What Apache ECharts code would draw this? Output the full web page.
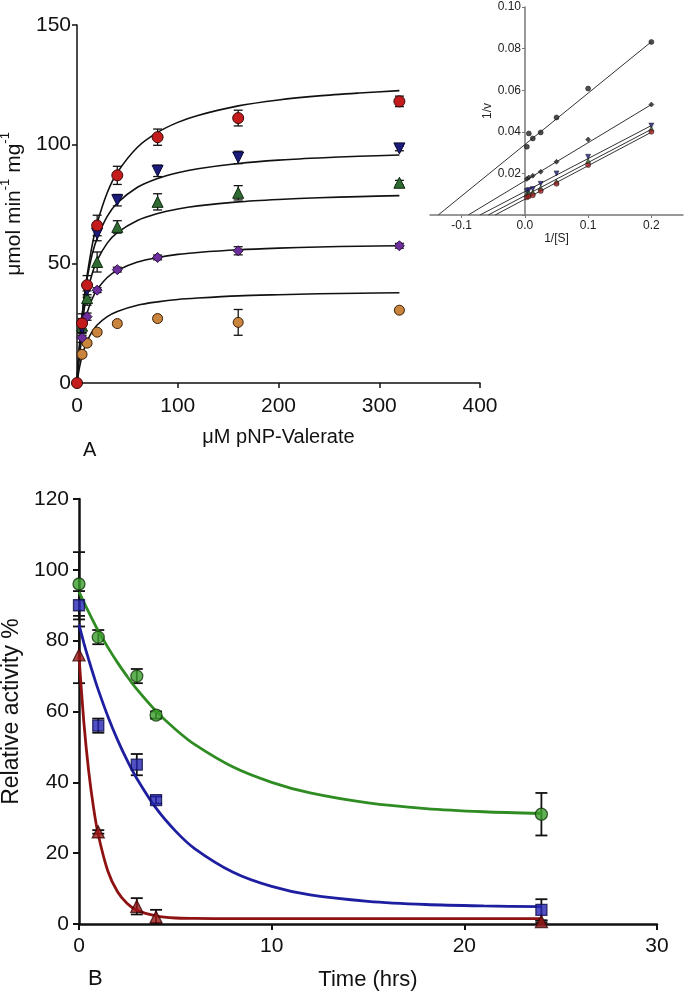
<!DOCTYPE html>
<html><head><meta charset="utf-8">
<script src="https://cdn.jsdelivr.net/npm/echarts@6/dist/echarts.min.js"></script>
<style>html,body{margin:0;padding:0;background:#fff}#c{width:685px;height:996px}</style>
</head><body><div id="c"></div>
<script>
// ---------- Panel A: Michaelis-Menten ----------
const concs = [5, 10, 20, 40, 80, 160, 320];
const redV = [25, 41, 66, 87, 103, 111, 118];
const redE = [4, 4, 4.3, 3.8, 3.4, 3.3, 2.2];
const blueV = [23, 38.9, 62.6, 76.6, 88.9, 94.5, 98.3];
const blueE = [3, 3, 3, 2.4, 2.4, 2.6, 1];
const greenV = [24, 35.6, 50.7, 65.4, 75.9, 79.7, 83.9];
const greenE = [3, 3, 4.2, 2.6, 3.4, 3, 1];
const purpleV = [19, 27.8, 38.9, 47.5, 52.6, 55.4, 57.5];
const purpleE = [2, 1.5, 1, 1, 1, 1.7, 1];
const orangeV = [12, 16.7, 21.3, 24.9, 27, 25.4, 30.5];
const orangeE = [1, 1, 1, 1, 1, 5.4, 1];

const fitS = [0, 1, 2.5, 5, 7.5, 10, 15, 20, 30, 40, 60, 80, 100, 120, 160, 200, 240, 280, 320];
const redFit = [0, 6.55, 15.2, 27.2, 37.0, 45.0, 57.6, 66.9, 79.7, 88.2, 98.8, 105.0, 109.2, 112.1, 116.1, 118.6, 120.3, 121.5, 122.5];
const blueFit = [0, 7.25, 16.3, 28.1, 36.9, 43.7, 53.8, 60.7, 69.8, 75.4, 82.0, 85.7, 88.1, 89.8, 92.0, 93.4, 94.3, 95.0, 95.5];
const greenFit = [0, 6.41, 14.3, 24.4, 31.8, 37.5, 45.7, 51.4, 58.6, 63.0, 68.1, 71.0, 72.9, 74.2, 75.9, 76.9, 77.6, 78.1, 78.5];
const purpleFit = [0, 5.26, 11.6, 19.4, 25.0, 29.3, 35.2, 39.2, 44.2, 47.2, 50.7, 52.6, 53.9, 54.7, 55.8, 56.5, 57.0, 57.3, 57.5];
const orangeFit = [0, 2.93, 6.6, 11.3, 14.8, 17.5, 21.5, 24.3, 27.8, 30.0, 32.6, 34.0, 35.0, 35.6, 36.5, 37.0, 37.4, 37.6, 37.8];

// ---------- Inset: Lineweaver-Burk ----------
const invS = [0.003125, 0.00625, 0.0125, 0.025, 0.05, 0.1, 0.2];
const lbOrange = [0.0328, 0.0392, 0.0368, 0.0397, 0.0469, 0.0608, 0.0832];
const lbPurple = [0.0173, 0.0180, 0.0189, 0.0208, 0.0256, 0.0363, 0.0531];
const lbBlue = [0.0115, 0.0120, 0.0125, 0.0150, 0.0200, 0.0280, 0.0430];
const lbGreen = [0.0102, 0.0105, 0.0110, 0.0130, 0.0160, 0.0260, 0.0415];
const lbRed = [0.0085, 0.0090, 0.0095, 0.0115, 0.0150, 0.0240, 0.0400];
const lbXInt = [-0.137, -0.0895, -0.071, -0.058, -0.047];
const lbYEnd = [0.0833, 0.0531, 0.0430, 0.0412, 0.0398];
const lbXEnd = 0.2;

// ---------- Panel B: stability ----------
const times = [0, 1, 3, 4, 24];
const greenAct = [96, 81, 70, 59, 31];
const greenActE = [9, 2, 2, 1, 6];
const blueAct = [90, 56, 45, 35, 4];
const blueActE = [4, 2, 3, 1, 3];
const redAct = [76, 26, 5, 2, 0.7];
const redActE = [8, 0.5, 2.3, 2, 0.3];

const fitT = [0, 0.25, 0.5, 0.75, 1, 1.5, 2, 2.5, 3, 4, 5, 6, 8, 10, 12, 15, 18, 21, 24];
const greenDecay = [93.8, 90.9, 88.1, 85.4, 82.8, 78.1, 73.8, 69.9, 66.3, 60.1, 55.0, 50.7, 44.3, 40.0, 37.0, 34.2, 32.6, 31.7, 31.2];
const blueDecay = [84.5, 79.4, 74.7, 70.3, 66.1, 58.6, 52.0, 46.2, 41.1, 32.7, 26.3, 21.3, 14.6, 10.6, 8.2, 6.4, 5.5, 5.1, 4.9];
const redDecay = [75.5, 57.1, 43.3, 33.0, 25.2, 14.9, 9.1, 5.8, 3.9, 2.3, 1.7, 1.6, 1.5, 1.5, 1.5, 1.5, 1.5, 1.5, 1.5];

const FF = '"Liberation Sans", Arial, sans-serif';
const zip = (xs, ys) => xs.map((x, i) => [x, ys[i]]);
const errs = (xs, ys, es) => xs.map((x, i) => [x, ys[i] - es[i], ys[i] + es[i]]);

function errRender(cap, lw) {
  return function (params, api) {
    const x = api.value(0), lo = api.value(1), hi = api.value(2);
    const a = api.coord([x, lo]), b = api.coord([x, hi]);
    const st = { stroke: '#111', lineWidth: lw };
    return { type: 'group', children: [
      { type: 'line', shape: { x1: a[0], y1: a[1], x2: b[0], y2: b[1] }, style: st },
      { type: 'line', shape: { x1: a[0] - cap, y1: a[1], x2: a[0] + cap, y2: a[1] }, style: st },
      { type: 'line', shape: { x1: b[0] - cap, y1: b[1], x2: b[0] + cap, y2: b[1] }, style: st }
    ] };
  };
}

const chart = echarts.init(document.getElementById('c'), null, { renderer: 'canvas' });
const series = [];

// Panel A error bars
const aErr = [].concat(errs(concs, redV, redE), errs(concs, blueV, blueE), errs(concs, greenV, greenE),
  errs(concs, purpleV, purpleE), errs(concs, orangeV, orangeE));
series.push({ type: 'custom', xAxisIndex: 0, yAxisIndex: 0, renderItem: errRender(4.5, 1.3), data: aErr, encode: { x: 0, y: [1, 2] }, z: 2, silent: true });
// Panel A fit curves
[redFit, blueFit, greenFit, purpleFit, orangeFit].forEach(f => series.push({
  type: 'line', xAxisIndex: 0, yAxisIndex: 0, data: zip(fitS, f), smooth: 0.3,
  showSymbol: false, lineStyle: { color: '#111', width: 1.6 }, z: 3, silent: true
}));
// Panel A markers
const aMarks = [
  { d: orangeV, sym: 'circle', size: 10, fill: '#c9843e', border: '#3b2008', rot: 0 },
  { d: purpleV, sym: 'diamond', size: 10, fill: '#6e2e9e', border: '#2a0f40', rot: 0 },
  { d: greenV, sym: 'triangle', size: 11, fill: '#2f6a30', border: '#0f2a10', rot: 0 },
  { d: blueV, sym: 'triangle', size: 11, fill: '#1c1c7c', border: '#080830', rot: 180 },
  { d: redV, sym: 'circle', size: 11, fill: '#c41c1c', border: '#3a0808', rot: 0 }
];
aMarks.forEach((m, i) => series.push({
  type: 'scatter', xAxisIndex: 0, yAxisIndex: 0,
  data: (i === 4 ? [[0, 0]] : []).concat(zip(concs, m.d)),
  symbol: m.sym, symbolSize: m.size, symbolRotate: m.rot,
  itemStyle: { color: m.fill, borderColor: m.border, borderWidth: 1, opacity: 1 }, z: 4
}));

// Inset lines and points
lbXInt.forEach((xi, i) => series.push({
  type: 'line', xAxisIndex: 1, yAxisIndex: 1, data: [[xi, 0], [lbXEnd, lbYEnd[i]]],
  showSymbol: false, lineStyle: { color: '#333', width: 1 }, z: 3, silent: true
}));
const insetMarks = [
  { d: lbOrange, sym: 'circle', size: 5, fill: '#222' },
  { d: lbPurple, sym: 'diamond', size: 5, fill: '#222' },
  { d: lbBlue, sym: 'triangle', size: 5, fill: '#1c1c7c', rot: 180 },
  { d: lbGreen, sym: 'triangle', size: 5, fill: '#2f6a30' },
  { d: lbRed, sym: 'circle', size: 5, fill: '#a02020' }
];
insetMarks.forEach(m => series.push({
  type: 'scatter', xAxisIndex: 1, yAxisIndex: 1, data: zip(invS, m.d),
  symbol: m.sym, symbolSize: m.size, symbolRotate: m.rot || 0,
  itemStyle: { color: m.fill, borderColor: '#111', borderWidth: 0.6 }, z: 4
}));

// Panel B
const bErr = [].concat(errs(times, greenAct, greenActE), errs(times, blueAct, blueActE), errs(times, redAct, redActE));
series.push({ type: 'custom', xAxisIndex: 2, yAxisIndex: 2, renderItem: errRender(6, 1.8), data: bErr, encode: { x: 0, y: [1, 2] }, z: 2, silent: true });
[[greenDecay, '#2f8c22'], [blueDecay, '#1e1ea0'], [redDecay, '#8e1212']].forEach(([f, c]) => series.push({
  type: 'line', xAxisIndex: 2, yAxisIndex: 2, data: zip(fitT, f), smooth: 0.3,
  showSymbol: false, lineStyle: { color: c, width: 2.8 }, z: 3, silent: true
}));
[[greenAct, 'circle', 12, '#3c9e2c', '#14380c'], [blueAct, 'rect', 11, '#2626b4', '#0c0c48'], [redAct, 'triangle', 12, '#9c1616', '#3a0606']]
  .forEach(([d, sym, size, fill, border]) => series.push({
    type: 'scatter', xAxisIndex: 2, yAxisIndex: 2, data: zip(times, d),
    symbol: sym, symbolSize: size, itemStyle: { color: fill, borderColor: border, borderWidth: 1.3 }, z: 4
  }));

const blk = '#111';
const option = {
  animation: false,
  backgroundColor: '#fff',
  textStyle: { fontFamily: FF },
  grid: [
    { left: 77, top: 25, width: 403, height: 358, outerBoundsMode: 'none', containLabel: false },
    { left: 430, top: 7, width: 253, height: 208, outerBoundsMode: 'none', containLabel: false },
    { left: 79, top: 499, width: 578, height: 425, outerBoundsMode: 'none', containLabel: false }
  ],
  xAxis: [
    { gridIndex: 0, type: 'value', min: 0, max: 400, interval: 100,
      axisLine: { lineStyle: { color: blk, width: 1.5 } }, axisTick: { length: 5, lineStyle: { color: blk, width: 1.5 } },
      axisLabel: { fontSize: 21, color: blk, margin: 13, fontFamily: FF }, splitLine: { show: false },
      name: 'μM pNP-Valerate', nameLocation: 'middle', nameGap: 44, nameTextStyle: { fontSize: 20, color: blk, fontFamily: FF } },
    { gridIndex: 1, type: 'value', min: -0.15, max: 0.25,
      axisLine: { lineStyle: { color: '#777', width: 1.5 } },
      axisTick: { customValues: [-0.1, 0, 0.1, 0.2], length: 3, lineStyle: { color: '#777' } },
      axisLabel: { customValues: [-0.1, 0, 0.1, 0.2], formatter: v => v.toFixed(1), fontSize: 12, color: '#222', margin: 5, fontFamily: FF },
      splitLine: { show: false },
      name: '1/[S]', nameLocation: 'middle', nameGap: 16, nameTextStyle: { fontSize: 12, color: '#222', fontFamily: FF } },
    { gridIndex: 2, type: 'value', min: 0, max: 30, interval: 10,
      axisLine: { lineStyle: { color: blk, width: 2.5 } }, axisTick: { length: 6, lineStyle: { color: blk, width: 2 } },
      axisLabel: { fontSize: 21, color: blk, margin: 12, fontFamily: FF }, splitLine: { show: false },
      name: 'Time (hrs)', nameLocation: 'middle', nameGap: 45, nameTextStyle: { fontSize: 22, color: blk, fontFamily: FF } }
  ],
  yAxis: [
    { gridIndex: 0, type: 'value', min: 0, max: 150, interval: 50,
      axisLine: { show: true, lineStyle: { color: blk, width: 1.5 } }, axisTick: { show: true, length: 5, lineStyle: { color: blk, width: 1.5 } },
      axisLabel: { fontSize: 21, color: blk, margin: 6, fontFamily: FF }, splitLine: { show: false },
      name: '{a|μmol min}{s|-1}{a| mg}{s|-1}', nameLocation: 'middle', nameGap: 44,
      nameTextStyle: { color: blk, fontFamily: FF, rich: {
        a: { fontSize: 21, color: blk, fontFamily: FF, lineHeight: 26, verticalAlign: 'bottom' },
        s: { fontSize: 13, color: blk, fontFamily: FF, lineHeight: 26, verticalAlign: 'top' } } } },
    { gridIndex: 1, type: 'value', min: 0, max: 0.1, interval: 0.02, offset: -95,
      axisLine: { show: true, onZero: false, lineStyle: { color: '#777', width: 1.5 } },
      axisTick: { show: true, length: 3, lineStyle: { color: '#777' } },
      axisLabel: { formatter: v => v === 0 ? '' : v.toFixed(2), fontSize: 12, color: '#222', margin: 4, fontFamily: FF },
      splitLine: { show: false },
      name: '1/v', nameLocation: 'middle', nameGap: 25, nameTextStyle: { fontSize: 12, color: '#222', fontFamily: FF } },
    { gridIndex: 2, type: 'value', min: 0, max: 120, interval: 20,
      axisLine: { show: true, lineStyle: { color: blk, width: 2.5 } }, axisTick: { show: true, length: 6, lineStyle: { color: blk, width: 2 } },
      axisLabel: { fontSize: 21, color: blk, margin: 10, fontFamily: FF }, splitLine: { show: false },
      name: 'Relative activity %', nameLocation: 'middle', nameGap: 53, nameTextStyle: { fontSize: 23, color: blk, fontFamily: FF } }
  ],
  graphic: [
    { type: 'text', left: 83, top: 440, style: { text: 'A', fontSize: 20, fill: blk, fontFamily: FF } },
    { type: 'text', left: 88, top: 968, style: { text: 'B', fontSize: 22, fill: blk, fontFamily: FF } }
  ],
  series: series
};
chart.setOption(option);
</script>
</body></html>
